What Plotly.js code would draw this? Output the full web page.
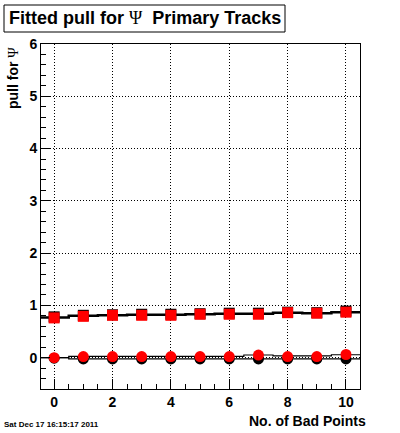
<!DOCTYPE html>
<html><head><meta charset="utf-8">
<script src="https://cdn.plot.ly/plotly-3.0.1.min.js"></script>
<style>body{margin:0;background:#fff}#c{width:400px;height:433px}</style>
</head><body><div id="c"></div>
<script>
const badPoints = [0,1,2,3,4,5,6,7,8,9,10];
const sigmaRed   = [0.76,0.79,0.81,0.81,0.81,0.83,0.83,0.83,0.86,0.85,0.87];
const sigmaBlack = [0.78,0.81,0.82,0.83,0.83,0.84,0.85,0.85,0.87,0.86,0.89];
const sigmaLine  = [0.77,0.80,0.81,0.82,0.82,0.83,0.84,0.84,0.86,0.85,0.87];
const meanRed    = [0.00,0.02,0.02,0.02,0.02,0.02,0.02,0.05,0.02,0.02,0.06];
const meanBlack  = [-0.01,-0.025,-0.025,-0.025,-0.025,-0.025,-0.025,-0.025,-0.025,-0.025,-0.025];
const meanLineHi = [0.00,0.025,0.025,0.025,0.025,0.025,0.025,0.05,0.035,0.035,0.055];
const meanLineLo = [0.00,-0.025,-0.025,-0.025,-0.025,-0.025,-0.025,-0.025,-0.025,-0.025,-0.025];
const xTicks = [0,2,4,6,8,10];
const yTicks = [0,1,2,3,4,5,6];

function stepX(xs){ const e = xs.map(v=>v-0.5); e.push(xs[xs.length-1]+0.5); return e; }
function stepY(ys){ const r = ys.slice(); r.push(ys[ys.length-1]); return r; }

const FONT = "Liberation Sans, Arial, Helvetica, sans-serif";
const PSI = '<span style="font-family:Liberation Serif, Times New Roman, serif;font-weight:normal">Ψ</span>';
const traces = [
  {x: stepX(badPoints), y: stepY(sigmaLine), mode:'lines', line:{shape:'hv', color:'#000', width:2.5}, hoverinfo:'skip'},
  {x: stepX(badPoints), y: stepY(meanLineHi), mode:'lines', line:{shape:'hv', color:'#000', width:1.2}},
  {x: stepX(badPoints), y: stepY(meanLineLo), mode:'lines', line:{shape:'hv', color:'#000', width:1.2}},
  {x: badPoints, y: sigmaBlack, mode:'markers', marker:{symbol:'square', size:11, color:'#000'}},
  {x: badPoints, y: meanBlack, mode:'markers', marker:{symbol:'circle', size:11, color:'#000'}},
  {x: badPoints, y: sigmaRed, mode:'markers', marker:{symbol:'square', size:11, color:'#ff0000'}},
  {x: badPoints, y: meanRed, mode:'markers', marker:{symbol:'circle', size:11, color:'#ff0000'}}
];

const L=41, R=360, T=44, B=389;
const W=R-L, H=B-T;
const px = v => (v-L)/W;
const py = v => (B-v)/H;

const layout = {
  width:400, height:433,
  margin:{l:L, r:400-R, t:T, b:433-B, pad:0},
  paper_bgcolor:'#fff', plot_bgcolor:'#fff',
  showlegend:false,
  font:{family:FONT, color:'#000'},
  xaxis:{
    range:[-0.45,10.48], tickvals:xTicks, ticktext:xTicks.map(String),
    ticks:'inside', ticklen:10, tickcolor:'#000', tickwidth:1,
    minor:{dtick:0.5, tick0:0, ticks:'inside', ticklen:5, tickcolor:'#000', showgrid:false},
    showgrid:true, gridcolor:'#000', griddash:'1px,2px', gridwidth:1,
    zeroline:false, showline:true, linecolor:'#000', linewidth:1, mirror:true,
    tickfont:{family:FONT, size:14, weight:'bold'}
  },
  yaxis:{
    range:[-0.6,6], tickvals:yTicks, ticktext:yTicks.map(String),
    ticks:'inside', ticklen:9, tickcolor:'#000', tickwidth:1,
    minor:{dtick:0.2, tick0:0, ticks:'inside', ticklen:5, tickcolor:'#000', showgrid:false},
    showgrid:true, gridcolor:'#000', griddash:'1px,2px', gridwidth:1,
    zeroline:false, showline:true, linecolor:'#000', linewidth:1, mirror:true,
    tickfont:{family:FONT, size:14, weight:'bold'}
  },
  shapes:[
    {type:'rect', xref:'paper', yref:'paper', x0:px(4), x1:px(285), y0:py(32), y1:py(5), line:{color:'#000', width:1}, fillcolor:'#fff', layer:'above'}
  ],
  annotations:[
    {text:'Fitted pull for '+PSI+'  Primary Tracks', xref:'paper', yref:'paper', x:px(144.5), y:py(18.5), xanchor:'center', yanchor:'middle', showarrow:false, font:{family:FONT, size:18, weight:'bold', color:'#000'}},
    {text:'pull for '+PSI, xref:'paper', yref:'paper', x:px(13), y:py(45), xanchor:'center', yanchor:'top', textangle:-90, showarrow:false, font:{family:FONT, size:14, weight:'bold'}},
    {text:'No. of Bad Points', xref:'paper', yref:'paper', x:px(368), y:py(421), xanchor:'right', yanchor:'middle', showarrow:false, font:{family:FONT, size:14, weight:'bold'}},
    {text:'Sat Dec 17 16:15:17 2011', xref:'paper', yref:'paper', x:px(2), y:py(424), xanchor:'left', yanchor:'middle', showarrow:false, font:{family:FONT, size:8, weight:'bold'}}
  ]
};
Plotly.newPlot('c', traces, layout, {staticPlot:true, displayModeBar:false});
</script></body></html>
